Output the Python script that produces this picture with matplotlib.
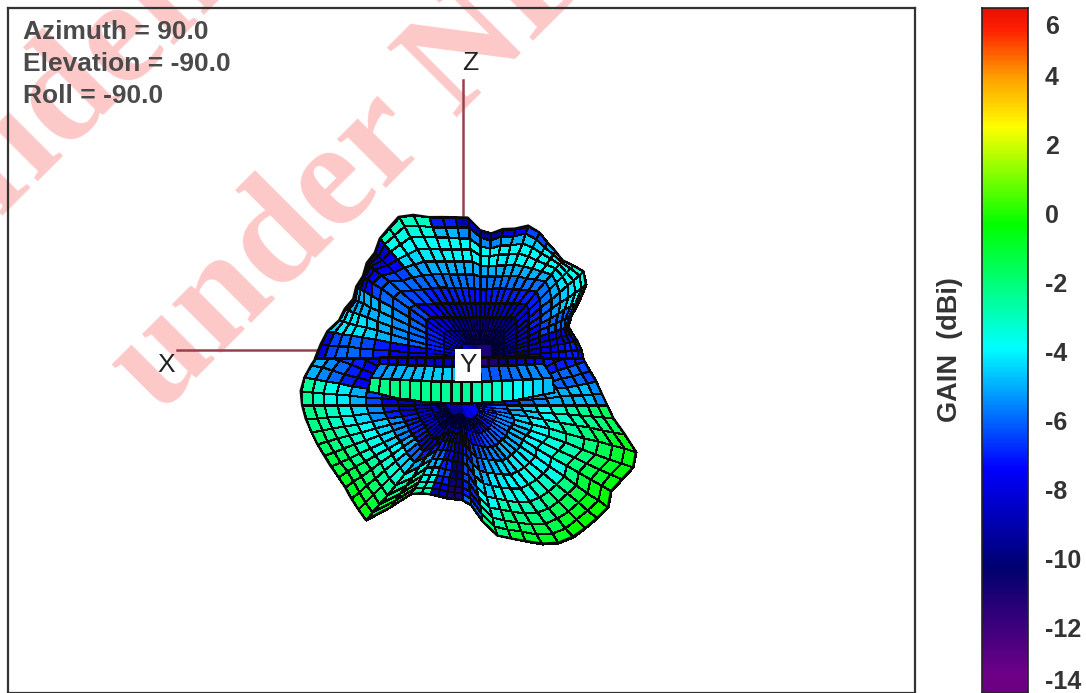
"""Chart: 3D gain pattern view with GAIN (dBi) colour bar."""

import matplotlib
matplotlib.use('Agg')
import matplotlib.pyplot as plt
from matplotlib.colors import LinearSegmentedColormap, Normalize
import numpy as np

# colour scale
cmap_gain = [-14.0, -13.4, -10.3, -7.4, -3.9, -0.3, 2.55, 4.0, 5.4, 6.0]
cmap_colors = ["#6a0080", "#6e0088", "#000070", "#0000ff", "#00ffff", "#00ff00",
               "#ffff00", "#ffa000", "#ff2000", "#e81000"]
bar_levels = [-13.9, -12, -10, -8, -6, -4, -2, 0, 2, 4, 5.97]
tick_labels = ["6", "4", "2", "0", "-2", "-4", "-6", "-8", "-10", "-12", "-14"]
tick_positions = [5.5, 4, 2, 0, -2, -4, -6, -8, -10, -12, -13.5]

info_lines = ["Azimuth = 90.0", "Elevation = -90.0", "Roll = -90.0"]

upper_fracs = [0, .12, .24, .36, .48, .6, .7, .78, .85, .91, .96, 1]
lower_fracs = [0, .1, .2, .3, .4, .5, .6, .7, .78, .86, .93, 1]

# upper lobe, outline radius every 5 deg from 0 to 180
upper_radius = [103, 101, 99, 95, 94, 100, 114, 129, 135, 131, 128, 131, 134, 139, 141, 134, 131, 125,
                128, 141, 143, 146, 150, 158, 163, 159, 156, 149, 148, 143, 143, 140, 144, 146, 155, 160, 165]
# gain per 10 deg sector, inner ring to outer ring
upper_gain = [
    [-12, -12, -11, -10, -9, -8, -7.5, -7.2, -7, -7, -7.5],
    [-11, -10.5, -10, -9, -8.5, -8, -8, -8, -8, -7.5, -7],
    [-11, -10.5, -9.5, -8.5, -7.5, -6.5, -6, -6, -6, -6, -6],
    [-11, -10, -9, -8, -7, -6, -5.2, -4.6, -4.2, -3.8, -3.6],
    [-11, -10.5, -9.5, -8, -7, -5.8, -5, -4.3, -3.9, -3.6, -3.4],
    [-11, -10.5, -10, -8.5, -7, -5.8, -5, -4, -3.8, -4, -5],
    [-11, -11, -10.5, -8.5, -7, -5.8, -5, -4, -3.8, -4.6, -6.5],
    [-11, -11, -10.5, -8.5, -7, -5.8, -5, -4.1, -3.8, -5, -8],
    [-11, -11, -10.5, -8.8, -7.2, -5.9, -5, -4, -3.8, -5.5, -9.5],
    [-11, -11, -10.5, -8.8, -7.2, -5.9, -5, -4, -3.8, -5.5, -9],
    [-11, -11, -10.5, -8.5, -7, -5.8, -5, -4, -3.8, -4.8, -7],
    [-10.5, -10.5, -10, -8.5, -7, -5.8, -5, -4.2, -3.8, -3.4, -3],
    [-10, -10, -9.5, -8, -7, -6, -5.2, -4.5, -4, -3.5, -3],
    [-9, -9, -8.5, -7.5, -6.5, -6, -6.5, -7.5, -8, -8.5, -8],
    [-8.5, -8, -7.5, -6.5, -6, -6, -6.5, -7.5, -8.5, -9, -9],
    [-8, -7.5, -7, -6, -5.5, -5, -5, -5, -5, -5, -5],
    [-8.5, -8, -7, -6, -5.5, -5, -4.6, -4.3, -4.2, -4.2, -4.5],
    [-9, -8.5, -8, -7.5, -7.5, -7, -6.5, -6, -6, -6.5, -8],
]

# lower lobe, outline radius every 5 deg from 150 to 390
lower_radius = [150, 151, 152, 156, 160, 162, 160, 157, 153, 150, 147, 145, 143, 143, 145, 147, 150, 125, 103,
                97, 95, 94, 94, 94, 95, 100, 118, 135, 142, 150, 160, 168, 172, 174, 176, 178, 172, 176, 182,
                180, 165, 152, 145, 140, 136, 132, 130, 130, 130]
lower_gain = [
    [-9, -9, -9, -8.5, -8, -8, -7.5, -7, -6.5, -6, -5.5],
    [-9, -9, -9, -8.5, -8, -8, -7.5, -7, -6, -5.5, -5],
    [-9, -9, -9, -8.5, -8, -6.5, -5, -4.2, -3.6, -3, -2.4],
    [-9, -9, -9, -8, -7, -5.5, -4.4, -3.6, -3, -2.5, -2.2],
    [-9, -9, -8.5, -7, -5.5, -4.5, -3.8, -3.2, -2.7, -2.2, -1.8],
    [-9.5, -9, -8, -7, -5.5, -4.4, -3.6, -3, -2.3, -1.7, -1.2],
    [-9.5, -9, -8.5, -7, -5, -4, -3.2, -2.5, -1.8, -1.2, -0.8],
    [-9.5, -9.5, -9, -8, -6, -4.5, -3.2, -2.5, -1.8, -1.1, -0.6],
    [-9.5, -9.5, -9, -8.5, -7, -5, -3.5, -2.6, -2, -1.2, -0.7],
    [-9.5, -9.5, -9, -8, -7, -6, -5, -4.2, -3.6, -3, -2.6],
    [-10, -9.5, -8.5, -8, -7.5, -7.5, -7, -6.5, -7, -8, -9],
    [-10, -10, -9.5, -9.5, -9.5, -9.5, -10, -10, -10.5, -11, -11],
    [-10, -9.5, -8.5, -7.5, -7, -6.5, -6.5, -6.5, -7, -7, -6],
    [-9, -8.5, -7.5, -6.5, -6, -5, -4.4, -3.8, -3.2, -2.6, -2],
    [-8.5, -8, -7, -6, -5, -4.2, -3.6, -2.8, -2.2, -1.6, -1.1],
    [-8, -7.5, -6.5, -5.5, -4.5, -4, -3.5, -2.8, -2, -1.3, -0.8],
    [-8, -7, -6, -5, -4.2, -3.6, -3, -2.2, -1.5, -0.8, -0.3],
    [-8, -7, -6, -5, -4.2, -3.8, -3.6, -2.2, -1.2, -0.6, -0.2],
    [-7.5, -6.5, -5.5, -4.8, -4, -3.4, -2.8, -2, -1.4, -0.9, -0.5],
    [-7.5, -6.5, -5.5, -4.5, -3.8, -3.1, -2.6, -2, -1.5, -1, -0.6],
    [-8, -7, -6, -5, -4.5, -3.8, -3.2, -2.7, -2.3, -1.9, -1.6],
    [-8, -8, -7.5, -7, -6, -5.5, -5, -5, -4.8, -4.8, -5.5],
    [-9, -9, -8.5, -8, -7.5, -7, -6.5, -6, -6, -6, -6.5],
    [-9, -9, -8.5, -8, -7.5, -7, -7, -7, -7, -7, -7],
]

# strip across the middle of the pattern, left to right
strip_top = [-7.5, -7.5, -8, -8, -8, -8.5, -8.5, -9, -9, -10, -11, -11.5, -11, -10, -9, -8.5, -8, -7.5]
strip_upper = [-5.5, -5.2, -5, -4.9, -4.8, -4.7, -4.6, -4.6, -4.7, -5, -5.5, -6, -6.2, -6, -5.8, -5.6, -5.5, -5.6]
strip_lower = [-2.2, -2.2, -2.2, -2.3, -2.3, -2.3, -2.3, -2.4, -2.4, -2.5, -2.8, -3, -3.2, -3.5, -3.8, -4.1, -4.4, -4.8]


def pol_mesh(cx, cy, start_deg, radius, gain, fracs, box=None):
    radius = np.array(radius, dtype=float)
    ang = np.radians(start_deg + 5.0 * np.arange(len(radius)))
    frac = np.array(fracs)
    shape = radius[:, None] * np.ones((1, len(frac)))
    if box is not None:
        # inner rings run square, only the outer ones follow the outline
        left, right, top = box
        c, s = np.abs(np.cos(ang)) + 1e-6, np.abs(np.sin(ang)) + 1e-6
        side = np.where(np.cos(ang) < 0, left, right)
        square = np.minimum(side / c, top / s)
        w = frac ** 4
        shape = radius[:, None] * w + square[:, None] * (1 - w)
    rr = shape * frac
    xx = cx + rr * np.cos(ang)[:, None]
    yy = cy - rr * np.sin(ang)[:, None]
    return xx, yy, np.repeat(np.array(gain), 2, axis=0)


def draw_lobe(ax, mesh, z):
    # lines get thinner toward the centre, else it clogs up black
    xx, yy, cc = mesh
    base = dict(cmap=cmap, norm=norm, shading='flat', zorder=z)
    ax.pcolormesh(xx[:, :2], yy[:, :2], cc[:, :1], **base)
    ax.pcolormesh(xx[:, 1:4], yy[:, 1:4], cc[:, 1:3], edgecolors='#000030', linewidth=0.3, **base)
    ax.pcolormesh(xx[:, 3:], yy[:, 3:], cc[:, 3:], edgecolors='#0a0a0a', linewidth=0.8, **base)
    ax.plot(xx[:, -1], yy[:, -1], color='#0a0a0a', lw=1.6, zorder=z)


fig = plt.figure(figsize=(10.86, 6.93), dpi=100)
plt.rcParams['font.family'] = ['Liberation Sans', 'DejaVu Sans']
cmap = LinearSegmentedColormap.from_list(
    "gain", [((g + 14) / 20.0, c) for g, c in zip(cmap_gain, cmap_colors)])
norm = Normalize(-14, 6)

# watermark sits behind everything
wm = dict(family='Liberation Serif', fontweight='bold', fontsize=108, color='#fdc8c8',
          rotation=45, rotation_mode='anchor', zorder=-1, va='baseline', ha='left')
fig.text(160 / 1086, 1 - 415 / 693, "under NDA", **wm)
fig.text(-190 / 1086, 1 - 402 / 693, "Confidential", **wm)

ax = fig.add_axes([8 / 1086, 0, 907 / 1086, 685 / 693])
ax.patch.set_alpha(0)
ax.set_xlim(8, 915)
ax.set_ylim(693, 8)
ax.set_xticks([])
ax.set_yticks([])
for s in ax.spines.values():
    s.set_color('#333333')
    s.set_linewidth(1.6)

draw_lobe(ax, pol_mesh(462, 405, 150, lower_radius, lower_gain, lower_fracs), 1.0)
draw_lobe(ax, pol_mesh(480, 358, 0, upper_radius, upper_gain, upper_fracs, box=(150, 100, 114)), 1.2)

# middle strip
sx = np.linspace(-92, 90, len(strip_lower) + 1)
sag = 1 - (sx / 92.0) ** 2
sy = np.vstack([357 + 0 * sag, 366 - 3 * (1 - sag), 381 - 4 * (1 - sag), 403 - 12 * (1 - sag)])
sxx = np.vstack([462 + sx * 0.9, 462 + sx * 0.9, 462 + sx, 462 + sx * 1.02])
ax.pcolormesh(sxx, sy, np.array([strip_top, strip_upper, strip_lower]), cmap=cmap, norm=norm,
              edgecolors='#0a0a0a', linewidth=0.8, shading='flat', zorder=1.4)

# axes of the pattern
axis_col = '#98404c'
ax.plot([463, 463], [80, 215], color=axis_col, lw=1.8, zorder=0.5)
ax.plot([177, 318], [350, 350], color=axis_col, lw=1.8, zorder=0.5)
lab = dict(fontsize=19, ha='center', va='center', color='#222222')
ax.text(470, 63, "Z", **lab)
ax.text(166, 365, "X", **lab)
ax.text(468, 365, "Y", zorder=5, bbox=dict(facecolor='white', edgecolor='none', pad=3), **lab)

for i, line in enumerate(info_lines):
    ax.text(23, 32 + 32 * i, line, fontsize=19, fontweight='bold', color='#4a4a4a',
            ha='left', va='center')

# colour bar
cax = fig.add_axes([982 / 1086, 0, 46 / 1086, 685 / 693])
grad = np.linspace(bar_levels[0], bar_levels[-1], 400)[:, None]
cax.imshow(grad, origin='lower', aspect='auto', cmap=cmap, norm=norm,
           extent=[0, 1, bar_levels[0], bar_levels[-1]])
cax.set_xticks([])
cax.yaxis.tick_right()
cax.set_yticks(tick_positions)
cax.set_yticklabels(tick_labels, fontsize=18, fontweight='bold', color='#333333')
cax.tick_params(axis='y', length=0, pad=12)
for s in cax.spines.values():
    s.set_color('#222222')
    s.set_linewidth(1.2)
fig.text(950 / 1086, 1 - 350 / 693, "GAIN  (dBi)", rotation=90, fontsize=19.5, fontweight='bold',
         color='#333333', ha='center', va='center')

plt.savefig("out.png", dpi=100)
